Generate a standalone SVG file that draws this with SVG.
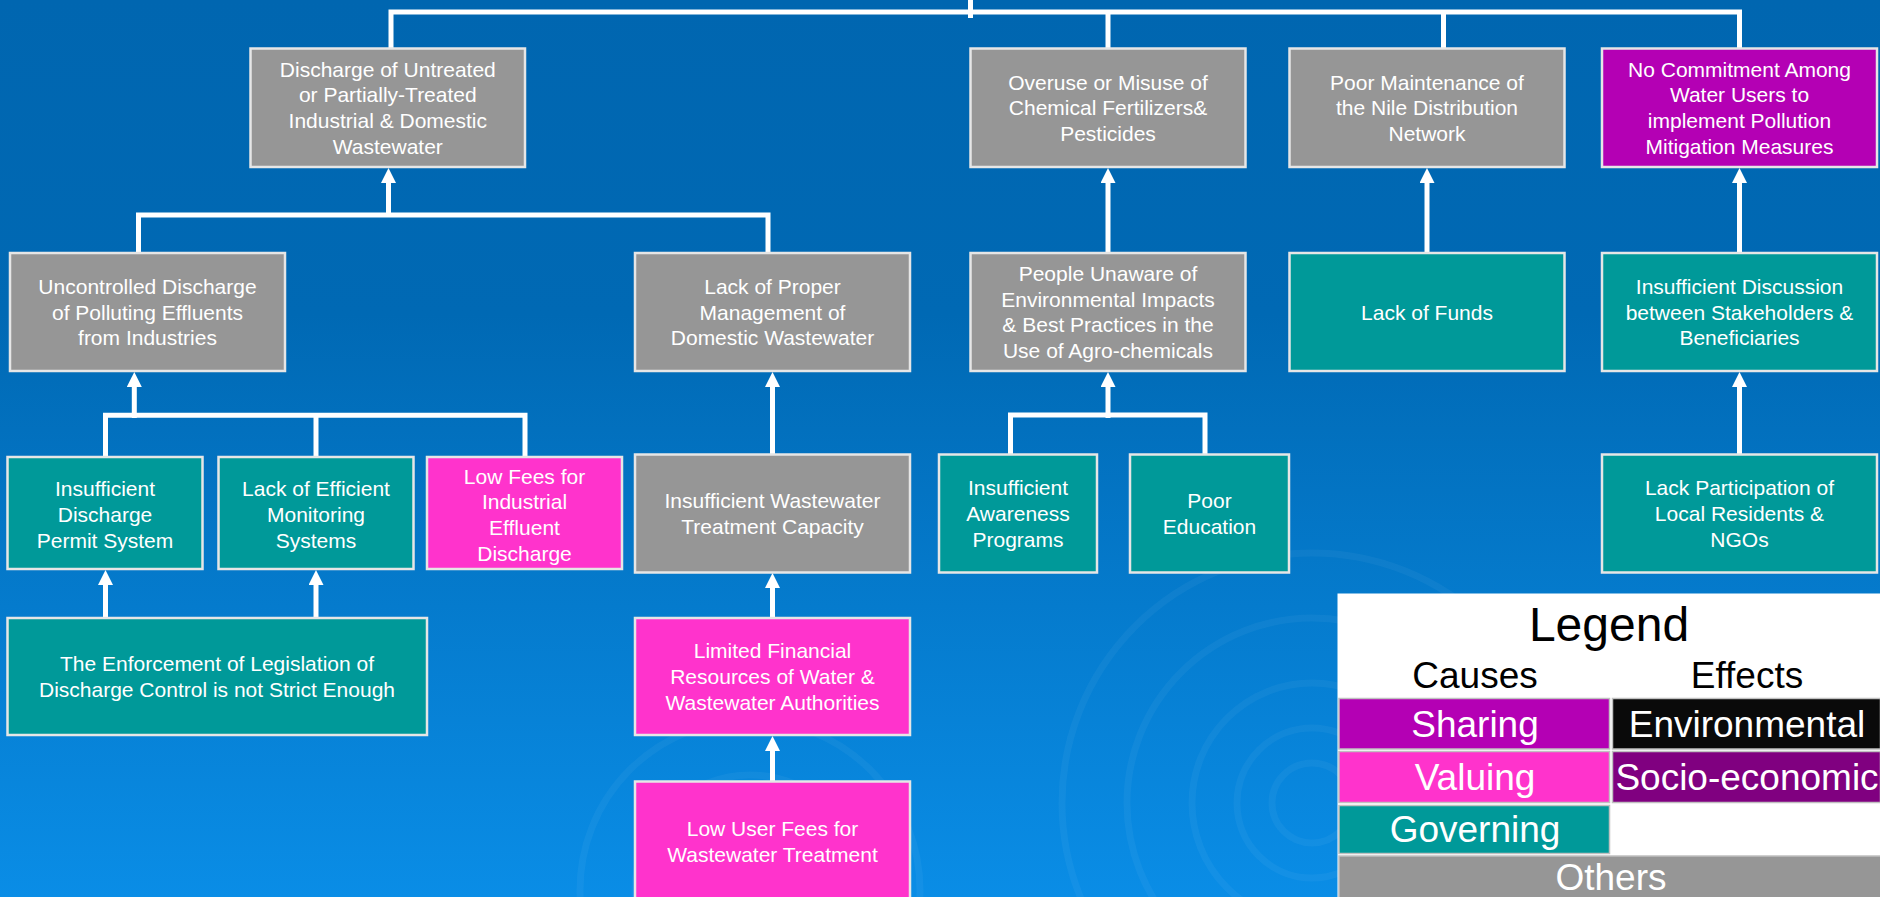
<svg xmlns="http://www.w3.org/2000/svg" width="1880" height="897" viewBox="0 0 1880 897">
  <defs>
    <linearGradient id="bg" x1="0" y1="0" x2="0" y2="1">
      <stop offset="0" stop-color="#0066b0"/>
      <stop offset="0.35" stop-color="#0069b4"/>
      <stop offset="1" stop-color="#0a8de6"/>
    </linearGradient>
    <marker id="arr" markerUnits="userSpaceOnUse" markerWidth="15" markerHeight="15" viewBox="0 0 15 15" refX="2" refY="7.5" orient="auto">
      <path d="M0,0 L15,7.5 L0,15 Z" fill="#ffffff"/>
    </marker>
    <style>
      .box { stroke: #e6e6e6; stroke-width: 2.5; }
      .gray { fill: #969696; }
      .teal { fill: #009999; }
      .pink { fill: #ff33cc; }
      .purple { fill: #b400b4; }
      .t { font-family: "Liberation Sans", Arial, sans-serif; font-size: 21px; fill: #ffffff; text-anchor: middle; }
      .conn { fill: none; stroke: #ffffff; stroke-width: 5; }
      .lg { font-family: "Liberation Sans", Arial, sans-serif; font-size: 37px; text-anchor: middle; }
      .cell { stroke: #c0c0c0; stroke-width: 1.5; }
      .ring { fill: none; stroke: #ffffff; stroke-opacity: 0.045; stroke-width: 7; }
    </style>
  </defs>

  <rect x="0" y="0" width="1880" height="897" fill="url(#bg)"/>

  <g id="ripples">
    <circle class="ring" cx="1312" cy="803" r="40"/>
    <circle class="ring" cx="1312" cy="803" r="75"/>
    <circle class="ring" cx="1312" cy="803" r="120"/>
    <circle class="ring" cx="1312" cy="803" r="185"/>
    <circle class="ring" cx="1312" cy="803" r="250"/>
    <circle class="ring" cx="750" cy="890" r="60"/>
    <circle class="ring" cx="750" cy="890" r="115"/>
    <circle class="ring" cx="750" cy="890" r="170"/>
  </g>

  <g id="connectors">
    <path class="conn" d="M970.5,0 V18"/>
    <path class="conn" d="M391,48 V12 H1739.5 V48"/>
    <path class="conn" d="M1108,12 V48"/>
    <path class="conn" d="M1443.5,12 V48"/>
    <path class="conn" d="M138.5,253 V215 H768 V253"/>
    <path class="conn" d="M388.5,215 V181" marker-end="url(#arr)"/>
    <path class="conn" d="M105.5,457 V415.3 H525 V457"/>
    <path class="conn" d="M316,415.3 V457"/>
    <path class="conn" d="M134.3,418 V385" marker-end="url(#arr)"/>
    <path class="conn" d="M772.5,454.5 V385" marker-end="url(#arr)"/>
    <path class="conn" d="M105.5,618 V583" marker-end="url(#arr)"/>
    <path class="conn" d="M316,618 V583" marker-end="url(#arr)"/>
    <path class="conn" d="M772.5,618 V586" marker-end="url(#arr)"/>
    <path class="conn" d="M772.5,781.5 V749" marker-end="url(#arr)"/>
    <path class="conn" d="M1108,253 V181" marker-end="url(#arr)"/>
    <path class="conn" d="M1427,253 V181" marker-end="url(#arr)"/>
    <path class="conn" d="M1739.5,253 V181" marker-end="url(#arr)"/>
    <path class="conn" d="M1010.5,454.5 V415 H1205 V454.5"/>
    <path class="conn" d="M1108,418 V385" marker-end="url(#arr)"/>
    <path class="conn" d="M1739.5,454.5 V385" marker-end="url(#arr)"/>
  </g>

  <g id="node-discharge-untreated">
    <rect class="box gray" x="250.5" y="48.5" width="274.5" height="118.5"/>
    <text class="t"><tspan x="387.8" y="76.7">Discharge of Untreated</tspan><tspan x="387.8" y="102.4">or Partially-Treated</tspan><tspan x="387.8" y="128.1">Industrial &amp; Domestic</tspan><tspan x="387.8" y="153.8">Wastewater</tspan></text>
  </g>
  <g id="node-overuse">
    <rect class="box gray" x="970.5" y="48.5" width="275" height="118.5"/>
    <text class="t"><tspan x="1108" y="89.6">Overuse or Misuse of</tspan><tspan x="1108" y="115.3">Chemical Fertilizers&amp;</tspan><tspan x="1108" y="141">Pesticides</tspan></text>
  </g>
  <g id="node-poor-maintenance">
    <rect class="box gray" x="1289.5" y="48.5" width="275" height="118.5"/>
    <text class="t"><tspan x="1427" y="89.6">Poor Maintenance of</tspan><tspan x="1427" y="115.3">the Nile Distribution</tspan><tspan x="1427" y="141">Network</tspan></text>
  </g>
  <g id="node-no-commitment">
    <rect class="box purple" x="1602" y="48.5" width="275" height="118.5"/>
    <text class="t"><tspan x="1739.5" y="76.7">No Commitment Among</tspan><tspan x="1739.5" y="102.4">Water Users to</tspan><tspan x="1739.5" y="128.1">implement Pollution</tspan><tspan x="1739.5" y="153.8">Mitigation Measures</tspan></text>
  </g>

  <g id="node-uncontrolled">
    <rect class="box gray" x="10" y="253" width="275" height="118"/>
    <text class="t"><tspan x="147.5" y="293.8">Uncontrolled Discharge</tspan><tspan x="147.5" y="319.5">of Polluting Effluents</tspan><tspan x="147.5" y="345.2">from Industries</tspan></text>
  </g>
  <g id="node-lack-proper-management">
    <rect class="box gray" x="635" y="253" width="275" height="118"/>
    <text class="t"><tspan x="772.5" y="293.8">Lack of Proper</tspan><tspan x="772.5" y="319.5">Management of</tspan><tspan x="772.5" y="345.2">Domestic Wastewater</tspan></text>
  </g>
  <g id="node-people-unaware">
    <rect class="box gray" x="970.5" y="253" width="275" height="118"/>
    <text class="t"><tspan x="1108" y="281">People Unaware of</tspan><tspan x="1108" y="306.7">Environmental Impacts</tspan><tspan x="1108" y="332.4">&amp; Best Practices in the</tspan><tspan x="1108" y="358.1">Use of Agro-chemicals</tspan></text>
  </g>
  <g id="node-lack-funds">
    <rect class="box teal" x="1289.5" y="253" width="275" height="118"/>
    <text class="t"><tspan x="1427" y="319.5">Lack of Funds</tspan></text>
  </g>
  <g id="node-insufficient-discussion">
    <rect class="box teal" x="1602" y="253" width="275" height="118"/>
    <text class="t"><tspan x="1739.5" y="293.8">Insufficient Discussion</tspan><tspan x="1739.5" y="319.5">between Stakeholders &amp;</tspan><tspan x="1739.5" y="345.2">Beneficiaries</tspan></text>
  </g>

  <g id="node-insufficient-permit">
    <rect class="box teal" x="7.5" y="457" width="195" height="112"/>
    <text class="t"><tspan x="105" y="496.3">Insufficient</tspan><tspan x="105" y="522">Discharge</tspan><tspan x="105" y="547.7">Permit System</tspan></text>
  </g>
  <g id="node-lack-monitoring">
    <rect class="box teal" x="218.5" y="457" width="195" height="112"/>
    <text class="t"><tspan x="316" y="496.3">Lack of Efficient</tspan><tspan x="316" y="522">Monitoring</tspan><tspan x="316" y="547.7">Systems</tspan></text>
  </g>
  <g id="node-low-fees-industrial">
    <rect class="box pink" x="427" y="457" width="195" height="112"/>
    <text class="t"><tspan x="524.5" y="483.5">Low Fees for</tspan><tspan x="524.5" y="509.2">Industrial</tspan><tspan x="524.5" y="534.9">Effluent</tspan><tspan x="524.5" y="560.6">Discharge</tspan></text>
  </g>
  <g id="node-insufficient-capacity">
    <rect class="box gray" x="635" y="454.5" width="275" height="118"/>
    <text class="t"><tspan x="772.5" y="508.2">Insufficient Wastewater</tspan><tspan x="772.5" y="533.9">Treatment Capacity</tspan></text>
  </g>
  <g id="node-insufficient-awareness">
    <rect class="box teal" x="939" y="454.5" width="158" height="118"/>
    <text class="t"><tspan x="1018" y="495.3">Insufficient</tspan><tspan x="1018" y="521">Awareness</tspan><tspan x="1018" y="546.7">Programs</tspan></text>
  </g>
  <g id="node-poor-education">
    <rect class="box teal" x="1130" y="454.5" width="159" height="118"/>
    <text class="t"><tspan x="1209.5" y="508.2">Poor</tspan><tspan x="1209.5" y="533.9">Education</tspan></text>
  </g>
  <g id="node-lack-participation">
    <rect class="box teal" x="1602" y="454.5" width="275" height="118"/>
    <text class="t"><tspan x="1739.5" y="495.3">Lack Participation of</tspan><tspan x="1739.5" y="521">Local Residents &amp;</tspan><tspan x="1739.5" y="546.7">NGOs</tspan></text>
  </g>

  <g id="node-enforcement">
    <rect class="box teal" x="7.5" y="618" width="419.5" height="117"/>
    <text class="t"><tspan x="217" y="671.2">The Enforcement of Legislation of</tspan><tspan x="217" y="696.9">Discharge Control is not Strict Enough</tspan></text>
  </g>
  <g id="node-limited-financial">
    <rect class="box pink" x="635" y="618" width="275" height="117"/>
    <text class="t"><tspan x="772.5" y="658.3">Limited Financial</tspan><tspan x="772.5" y="684">Resources of Water &amp;</tspan><tspan x="772.5" y="709.7">Wastewater Authorities</tspan></text>
  </g>
  <g id="node-low-user-fees">
    <rect class="box pink" x="635" y="781.5" width="275" height="121"/>
    <text class="t"><tspan x="772.5" y="836.4">Low User Fees for</tspan><tspan x="772.5" y="862.1">Wastewater Treatment</tspan></text>
  </g>

  <g id="legend">
    <rect x="1337.5" y="593.5" width="543" height="304" fill="#ffffff"/>
    <text class="lg" x="1609" y="641" style="font-size:48px" fill="#000000">Legend</text>
    <text class="lg" x="1475" y="688" fill="#000000">Causes</text>
    <text class="lg" x="1747" y="688" fill="#000000">Effects</text>
    <rect class="cell" x="1339" y="698.5" width="270.5" height="50.5" fill="#b400b4"/>
    <rect class="cell" x="1612.5" y="698.5" width="268" height="50.5" fill="#0a0a0a"/>
    <rect class="cell" x="1339" y="751.5" width="270.5" height="51" fill="#ff33cc"/>
    <rect class="cell" x="1612.5" y="751.5" width="268" height="51" fill="#800080"/>
    <rect class="cell" x="1339" y="805.5" width="270.5" height="48" fill="#009999"/>
    <rect class="cell" x="1339" y="856" width="542" height="45" fill="#969696"/>
    <text class="lg" x="1475" y="737" fill="#ffffff">Sharing</text>
    <text class="lg" x="1747" y="737" fill="#ffffff">Environmental</text>
    <text class="lg" x="1475" y="790" fill="#ffffff">Valuing</text>
    <text class="lg" x="1747" y="790" fill="#ffffff">Socio-economic</text>
    <text class="lg" x="1475" y="842" fill="#ffffff">Governing</text>
    <text class="lg" x="1611" y="890" fill="#ffffff">Others</text>
  </g>
</svg>
